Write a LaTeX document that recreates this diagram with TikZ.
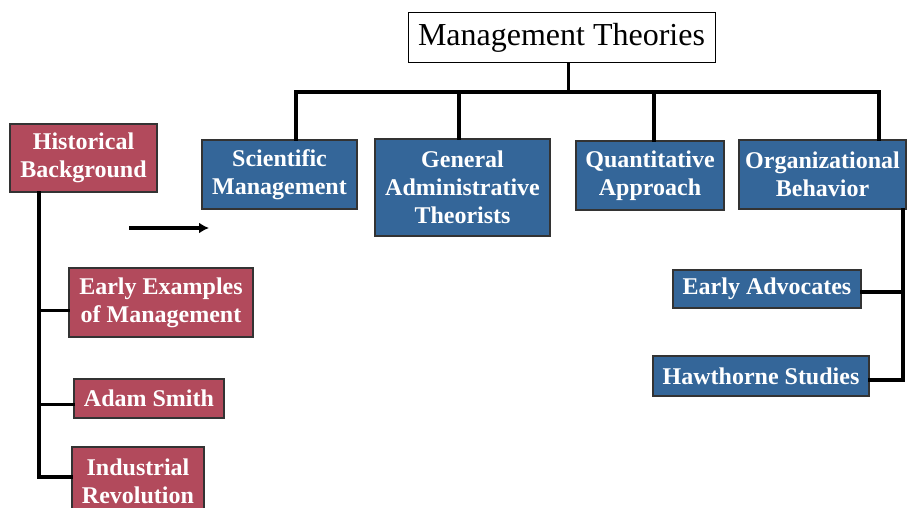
\documentclass[tikz,border=0pt]{standalone}
\usepackage{fontspec}
\setmainfont{Liberation Serif}
\usepackage{tikz}
\usetikzlibrary{arrows.meta,positioning,calc}
\usepackage{xcolor}
\definecolor{histred}{RGB}{178,74,92}
\definecolor{theoryblue}{RGB}{52,102,153}

\begin{document}
\begin{tikzpicture}[x=1pt, y=-1pt, >=stealth,
    redbox/.style={draw=black!80, line width=1.2pt, fill=histred, text=white,
      font=\fontsize{24}{28}\selectfont\bfseries, align=center, inner sep=0pt},
    bluebox/.style={draw=black!80, line width=1.2pt, fill=theoryblue, text=white,
      font=\fontsize{24}{28}\selectfont\bfseries, align=center, inner sep=0pt},
    link/.style={line width=3.2pt, line cap=rect}]
  \useasboundingbox (0,0) rectangle (907,508);
  % Title
  \node[draw=black, line width=1pt, fill=white, minimum width=307pt, minimum height=50pt,
    font=\fontsize{32}{36}\selectfont] (title) at (561.5,38) {Management Theories};
  % Theory boxes
  \node[bluebox, minimum width=155pt, minimum height=69pt] (sci) at (279.5,174.5) {Scientific\\Management};
  \node[bluebox, minimum width=175pt, minimum height=97pt] (gen) at (462.5,187.5) {General\\Administrative\\Theorists};
  \node[bluebox, minimum width=148pt, minimum height=69pt] (quant) at (650,175.5) {Quantitative\\Approach};
  \node[bluebox, minimum width=167pt, minimum height=69pt] (org) at (822.5,174.5) {Organizational\\Behavior};
  \node[bluebox, minimum width=188pt, minimum height=38pt] (early) at (767,289) {Early Advocates};
  \node[bluebox, minimum width=216pt, minimum height=40pt] (haw) at (761,376) {Hawthorne Studies};
  % Historical background
  \node[redbox, minimum width=147pt, minimum height=68pt] (hist) at (83.5,158) {Historical\\Background};
  \node[redbox, minimum width=184pt, minimum height=69pt] (ex) at (161,302.5) {Early Examples\\of Management};
  \node[redbox, minimum width=150pt, minimum height=39pt] (adam) at (149,398.5) {Adam Smith};
  \node[redbox, minimum width=132pt, minimum height=69pt] (ind) at (138,481.5) {Industrial\\Revolution};
  % Tree under the title
  \coordinate (b1) at (296,92);
  \coordinate (b2) at (459,92);
  \coordinate (b3) at (654,92);
  \coordinate (b4) at (879,92);
  \draw[link] ([xshift=7pt]title.south) -- ([xshift=7pt]title.south |- b1);
  \draw[link] (b1) -- (b4);
  \draw[link] (b1) -- (b1 |- sci.north);
  \draw[link] (b2) -- (b2 |- gen.north);
  \draw[link] (b3) -- (b3 |- quant.north);
  \draw[link] (b4) -- (b4 |- org.north);
  % Organizational behavior branch
  \coordinate (ov) at (903,380);
  \draw[link] (ov |- org.south) -- (ov);
  \draw[link] ([yshift=-3pt]early.east) -- ([yshift=-3pt]early.east -| ov);
  \draw[link] ([yshift=-4pt]haw.east) -- ([yshift=-4pt]haw.east -| ov);
  % Historical branch
  \coordinate (lv) at (39,477);
  \draw[link] (lv |- hist.south) -- (lv);
  \draw[link] ([yshift=-8pt]ex.west) -- ([yshift=-8pt]ex.west -| lv);
  \draw[link] ([yshift=-6pt]adam.west) -- ([yshift=-6pt]adam.west -| lv);
  \draw[link] (lv) -- (lv -| ind.west);
  % Arrow
  \coordinate (a1) at (129,228);
  \coordinate (a2) at (209,228);
  \draw[line width=3.2pt, -{Latex[length=10pt,width=11pt]}] (a1) -- (a2);
\end{tikzpicture}
\end{document}
